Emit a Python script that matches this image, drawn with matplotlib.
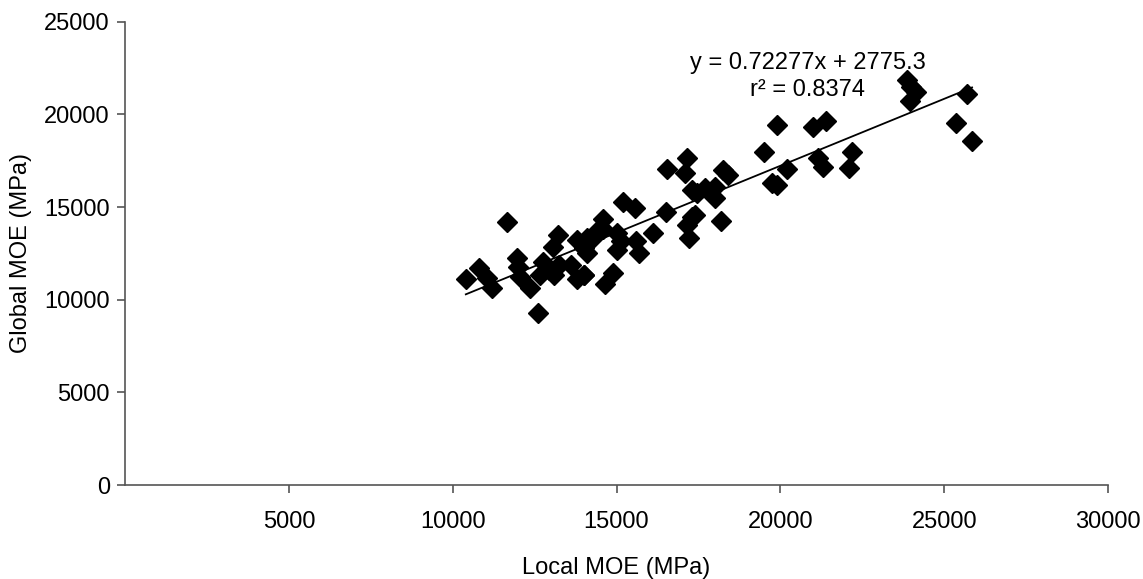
import matplotlib
matplotlib.use("Agg")
import matplotlib.pyplot as plt
import numpy as np

plt.rcParams['font.family'] = ['Liberation Sans', 'DejaVu Sans']

local_moe = [10400, 10800, 11050, 11200, 11650, 11950, 12000, 12050, 12350, 12600,
             12750, 12650, 12950, 13100, 13200, 13050, 13250, 13600, 13800, 14000,
             13800, 14000, 14100, 14300, 14400, 14600, 14600, 14100, 15000, 15150,
             15600, 15700, 15000, 14100, 14900, 14650, 14000, 15200, 15550, 16100,
             16500, 16550, 17150, 17100, 17300, 17450, 17700, 18000, 18000, 18250,
             18400, 17150, 17300, 17400, 17200, 18200, 19500, 19750, 19900, 19900,
             20200, 21000, 21400, 21150, 21300, 22200, 22100, 23850, 24150, 24000,
             23950, 25700, 25350, 25850]
global_moe = [11100, 11700, 11200, 10650, 14200, 12250, 11750, 11250, 10650, 9300,
              12050, 11350, 11600, 11350, 13500, 12850, 11900, 11900, 13250, 12800,
              11100, 11350, 13100, 13400, 13700, 14350, 13800, 13350, 13600, 13150,
              13150, 12550, 12700, 12550, 11450, 10850, 11350, 15250, 14950, 13600,
              14750, 17050, 17650, 16850, 15950, 15750, 16050, 15500, 16100, 17000,
              16750, 14050, 14450, 14600, 13350, 14250, 17950, 16300, 16200, 19450,
              17050, 19300, 19650, 17650, 17150, 17950, 17100, 21850, 21200, 21500,
              20750, 21100, 19550, 18550]

slope = 0.72277
intercept = 2775.3
r2 = 0.8374
fit_x = [min(local_moe), max(local_moe)]

x_ticks = [5000, 10000, 15000, 20000, 25000, 30000]
y_ticks = [0, 5000, 10000, 15000, 20000, 25000]

fig = plt.figure(figsize=(11.43, 5.79), dpi=100)
ax = fig.add_axes([0.1094, 0.1623, 0.860, 0.800])

ax.plot(local_moe, global_moe, linestyle='none', marker='D', markersize=9.8,
        color='black', zorder=3)
fx = np.array(fit_x, dtype=float)
ax.plot(fx, slope * fx + intercept, color='black', linewidth=1.3, zorder=2)

ax.text(20840, 22800, f"y = {slope}x + {intercept}", ha='center', va='center', fontsize=17)
ax.text(20840, 21300, f"r\u00b2 = {r2}", ha='center', va='center', fontsize=17)

ax.set_xlim(0, 30000)
ax.set_ylim(0, 25000)
ax.set_xticks(x_ticks)
ax.set_yticks(y_ticks)
ax.set_xticklabels([str(t) for t in x_ticks])
ax.set_yticklabels([str(t) for t in y_ticks])
for s in ['top', 'right']:
    ax.spines[s].set_visible(False)
for s in ['left', 'bottom']:
    ax.spines[s].set_color('#555555')
    ax.spines[s].set_linewidth(1.2)
ax.tick_params(axis='x', direction='out', length=6, width=1.2, color='#555555',
               labelsize=17, pad=13)
ax.tick_params(axis='y', direction='out', length=6, width=1.2, color='#555555',
               labelsize=17, pad=5)
ax.set_xlabel('Local MOE (MPa)', fontsize=17, labelpad=17)
ax.set_ylabel('Global MOE (MPa)', fontsize=17, labelpad=9)

fig.savefig('out.png', dpi=100)
